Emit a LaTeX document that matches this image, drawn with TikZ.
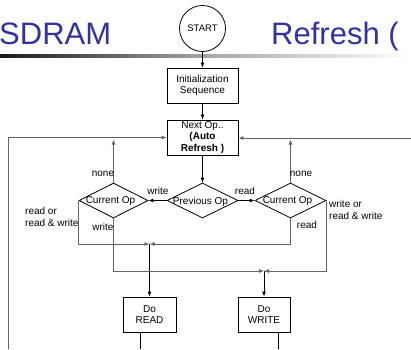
\documentclass[tikz,border=0pt]{standalone}
\usepackage{fontspec}
\setmainfont{Liberation Sans}
\usetikzlibrary{arrows.meta,shapes.geometric}
\definecolor{titleblue}{RGB}{51,51,153}
\definecolor{wiregray}{RGB}{100,100,100}
\begin{document}
\begin{tikzpicture}[x=1pt,y=-1pt,
  every node/.style={font=\fontsize{10}{11.5}\selectfont, inner sep=0pt},
  box/.style={draw, line width=0.8pt, minimum width=71pt, minimum height=35pt, align=center},
  dia/.style={draw, line width=0.8pt, diamond, minimum width=71pt, minimum height=35pt},
  arr/.style={line width=0.8pt, -{Latex[length=5pt,width=4pt]}},
  wire/.style={line width=0.9pt, draw=wiregray},
  lbl/.style={font=\fontsize{10}{12}\selectfont}
]
\useasboundingbox (0,0) rectangle (411,349);
\clip (0,0) rectangle (411,349);
\fill[white] (0,0) rectangle (411,349);

% title
\node[anchor=base west, text=titleblue, font=\fontsize{31}{34}\selectfont] (t1) at (-1,44) {SDRAM};
\node[anchor=base west, text=titleblue, font=\fontsize{31}{34}\selectfont] (t2) at (271,44) {Refresh (};
\shade[left color=gray!20!black, right color=white, middle color=gray!70] (0,54) rectangle (411,57);

% nodes
\node[draw, circle, line width=0.8pt, minimum size=46pt, fill=white, font=\fontsize{9.5}{11}\selectfont] (start) at (202.5,28.5) {START};
\node[box] (init) at (202.5,85.5) {Initialization\\Sequence};
\node[box] (next) at (202.5,137.5) {Next Op..\\\textbf{(Auto}\\\textbf{Refresh )}};
\node[dia] (prev) at (202.5,200.5) {};
\node (prevt) at ([xshift=-2pt,yshift=-1pt]prev.center) {Previous Op};
\node[dia, minimum width=69pt] (curL) at (113.5,200.5) {};
\node (curLt) at ([xshift=-3pt,yshift=-1pt]curL.center) {Current Op};
\node[dia] (curR) at (290.5,200.5) {};
\node (curRt) at ([xshift=-3pt,yshift=-1pt]curR.center) {Current Op};
\node[box, minimum width=53pt] (doread) at (149.5,314.5) {Do\\READ};
\node[box, minimum width=52pt] (dowrite) at (264,314.5) {Do\\WRITE};

\coordinate (rm) at (149.5,244);
\coordinate (wm) at (264,271);
\coordinate (loopL) at (8,349);
\coordinate (loopR) at (411,138);
\coordinate (readout) at (140,349);
\coordinate (writeout) at (278,349);

% main flow
\draw[arr] (start) -- (init);
\draw[arr] (init) -- (next);
\draw[arr] (next) -- (prev);
\draw[arr] (prev.west) -- (curL.east);
\draw[arr] (prev.east) -- (curR.west);

% none returns
\draw[wire, arr, draw=wiregray] (curL.north) -- (curL.north |- 0,139.5);
\draw[wire, arr, draw=wiregray] (curR.north) -- (curR.north |- 0,139.5);

% loops
\draw[wire, arr] (loopL) -- (loopL |- next.west) -- (next.west);
\draw[wire, arr] (loopR) -- (next.east |- loopR);

% to read merge
\draw[wire, arr] (curL.west) -- (curL.west |- rm) -- (rm);
\draw[wire, arr] (curR.south) -- (curR.south |- rm) -- (rm);
\draw[arr] (rm) -- (doread.north);

% to write merge
\draw[wire, arr] (curL.south) -- (curL.south |- wm) -- (wm);
\draw[wire, arr] (curR.east) -- (curR.east |- wm) -- (wm);
\draw[arr] (wm) -- (dowrite.north);

% outputs
\draw[line width=0.8pt] (doread.south -| readout) -- (readout);
\draw[line width=0.8pt] (dowrite.south -| writeout) -- (writeout);

% labels
\node[lbl] (l1) at (103,174) {none};
\node[lbl] (l2) at (301,174) {none};
\node[lbl] (l3) at (158,191) {write};
\node[lbl] (l4) at (245,191) {read};
\node[lbl, anchor=west, align=left] (l5) at (25,217) {read or\\read \& write};
\node[lbl] (l6) at (103,227) {write};
\node[lbl] (l7) at (307,225) {read};
\node[lbl, anchor=west, align=left] (l8) at (329,210) {write or\\read \& write};
\end{tikzpicture}
\end{document}
